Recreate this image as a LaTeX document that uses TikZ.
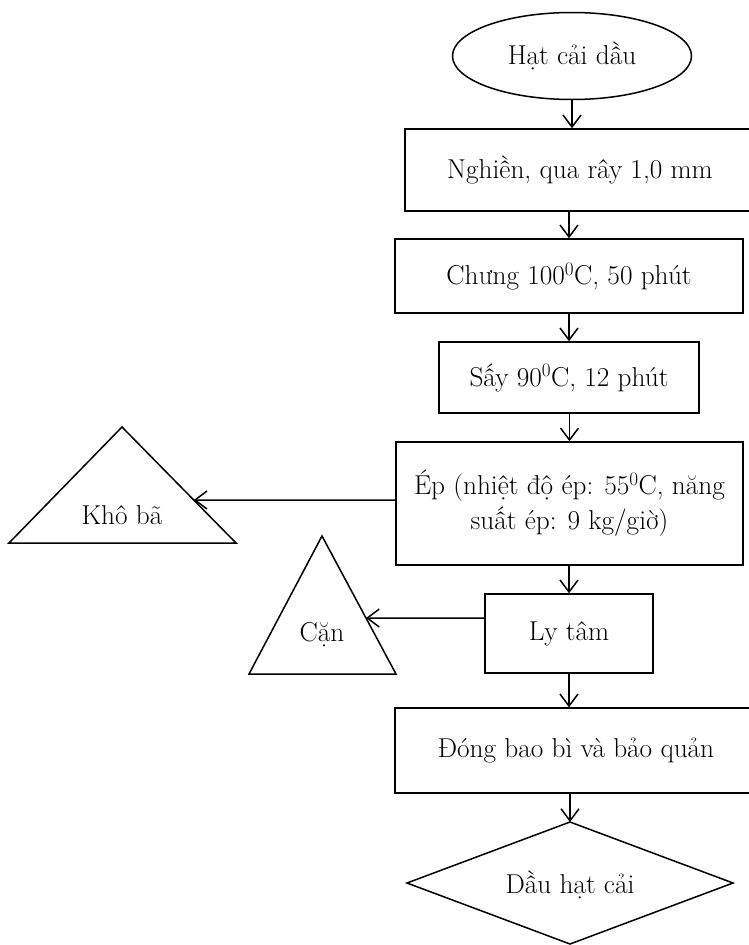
\documentclass[tikz,border=0pt]{standalone}
\usetikzlibrary{shapes.geometric,arrows.meta}

\tikzset{
  stepbox/.style={draw, rectangle, inner sep=0pt, align=center},
  flow/.style={-{Straight Barb[length=12pt,width=18pt]}},
}

\begin{document}
\begin{tikzpicture}[x=1pt, y=-1pt, line width=1.5pt,
    font=\fontsize{27.3}{35}\selectfont]
      \useasboundingbox (0,0) rectangle (748,945);
      % main line
      \node[draw, ellipse, minimum width=239pt, minimum height=87pt] (hat) at (572,56) {Hạt cải dầu};
      \node[stepbox, minimum width=350pt, minimum height=82pt] (nghien) at (580,170) {Nghiền, qua rây 1,0 mm};
      \node[stepbox, minimum width=348pt, minimum height=74pt] (chung) at (569,276) {Chưng 100\textsuperscript{0}C, 50 phút};
      \node[stepbox, minimum width=260pt, minimum height=71pt] (say) at (569,377.5) {Sấy 90\textsuperscript{0}C, 12 phút};
      \node[stepbox, minimum width=347pt, minimum height=123pt] (ep) at (569.5,503.5) {Ép (nhiệt độ ép: 55\textsuperscript{0}C, năng\\suất ép: 9 kg/giờ)};
      \node[stepbox, minimum width=168pt, minimum height=79pt] (lytam) at (569,633.5) {Ly tâm};
      \node[stepbox, minimum width=362pt, minimum height=85pt] (dong) at (576,750.5) {Đóng bao bì và bảo quản};
      % end product
      \coordinate (dauTop) at (570,822);
      \draw (dauTop) -- (733,883) -- (570,944) -- (407,883) -- cycle;
      \node (dau) at (570,885) {Dầu hạt cải};
      % side products
      \coordinate (khoTop) at (122,427);
      \coordinate (khoLeft) at (9,543);
      \coordinate (khoRight) at (236,543);
      \draw (khoTop) -- (khoRight) -- (khoLeft) -- cycle;
      \node (kho) at (122,515) {Khô bã};
      \coordinate (canTop) at (322,536);
      \coordinate (canLeft) at (249,674);
      \coordinate (canRight) at (396,674);
      \draw (canTop) -- (canRight) -- (canLeft) -- cycle;
      \node (can) at (322,635) {Cặn};
      % arrows
      \draw[flow] (hat.south) -- (hat.south |- nghien.north);
      \draw[flow] (chung.north |- nghien.south) -- (chung.north);
      \draw[flow] (say.north |- chung.south) -- (say.north);
      \draw[flow] (ep.north |- say.south) -- (ep.north);
      \draw[flow] (lytam.north |- ep.south) -- (lytam.north);
      \draw[flow] (lytam.south) -- (lytam.south |- dong.north);
      \draw[flow] (dauTop |- dong.south) -- (dauTop);
      \coordinate (epOut) at ([yshift=3.5pt]ep.west);
      \coordinate (epFar) at (epOut -| khoLeft);
      \coordinate (lyOut) at ([yshift=15.5pt]lytam.west);
      \coordinate (lyFar) at (lyOut -| canLeft);
      \draw[flow] (epOut) -- (intersection of epOut--epFar and khoTop--khoRight);
      \draw[flow] (lyOut) -- (intersection of lyOut--lyFar and canTop--canRight);
    \end{tikzpicture}
\end{document}
